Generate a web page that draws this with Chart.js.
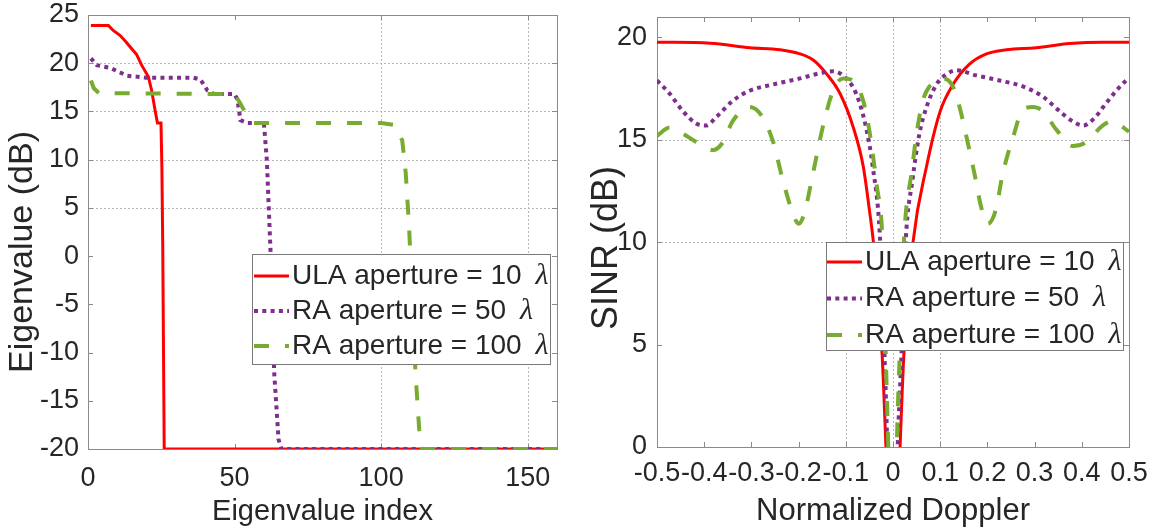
<!DOCTYPE html>
<html>
<head>
<meta charset="utf-8">
<script src="https://cdn.jsdelivr.net/npm/chart.js@4.4.1/dist/chart.umd.min.js"></script>
<style>
  body { margin: 0; background: #fff; }
  canvas { position: absolute; top: 0; }
  #eigChart { left: 0; }
  #sinrChart { left: 580px; }
</style>
</head>
<body>
<canvas id="eigChart" width="600" height="531"></canvas>
<canvas id="sinrChart" width="581" height="531"></canvas>
<script>
// series names
const seriesNames = ['ULA aperture = 10 λ', 'RA aperture = 50 λ', 'RA aperture = 100 λ'];

// eigenvalue spectra (dB) against eigenvalue index
const ulaIdx = [1, 7, 8.6, 10.9, 13, 14.9, 16.6, 18.3, 20.6, 21.7, 22.9, 23.7, 24.9, 25.2, 25.5, 26, 160];
const ulaEig = [23.9, 23.9, 23.4, 22.9, 22.2, 21.5, 20.9, 19.8, 18.6, 17.2, 15.1, 13.8, 13.8, 9.3, 1, -20, -20];
const ra50Idx = [1, 3, 7.7, 13.4, 20, 36, 38.4, 40.7, 43, 50, 51, 52, 54.3, 60, 61, 62.3, 63.5, 65, 66, 160];
const ra50Eig = [20.5, 19.8, 19.5, 18.7, 18.5, 18.5, 18.3, 17.2, 16.8, 16.8, 16.2, 14.1, 13.8, 13.8, 10, 0.3, -12, -19, -20, -20];
const ra100Idx = [1, 2, 3.7, 50, 52, 53.8, 56.6, 100, 104.4, 107.2, 108.4, 109.5, 111.7, 113, 114, 160];
const ra100Eig = [18.2, 17.4, 16.9, 16.8, 15.8, 14.8, 13.8, 13.8, 13.6, 12, 8.6, 3.3, -12, -18, -20, -20];

// SINR (dB) against normalized Doppler
const ulaDop = [-0.5, -0.387, -0.303, -0.239, -0.197, -0.169, -0.14, -0.112, -0.084, -0.063, -0.049, -0.042, -0.023, -0.015, 0,
  0.015, 0.023, 0.043, 0.071, 0.1, 0.127, 0.162, 0.198, 0.24, 0.303, 0.374, 0.444, 0.5];
const ulaSinr = [19.77, 19.72, 19.5, 19.4, 19.2, 18.9, 18.2, 17.25, 15.6, 13.7, 11.4, 10.1, 4.5, 0, -10,
  0, 4.5, 10.1, 13.7, 16.4, 17.7, 18.7, 19.2, 19.4, 19.5, 19.7, 19.77, 19.77];
const ra50Dop = [-0.5, -0.473, -0.445, -0.417, -0.396, -0.375, -0.34, -0.304, -0.255, -0.197, -0.155, -0.127, -0.099, -0.078, -0.057,
  -0.043, -0.028, -0.018, -0.012, 0, 0.01, 0.018, 0.027, 0.041, 0.056, 0.071, 0.092, 0.113, 0.134, 0.176, 0.226, 0.276, 0.318,
  0.353, 0.381, 0.403, 0.424, 0.452, 0.473, 0.494, 0.5];
const ra50Sinr = [17.9, 17.25, 16.4, 15.8, 15.7, 16.1, 16.9, 17.4, 17.7, 18.0, 18.25, 18.35, 18.0, 17.25, 15.6,
  13.7, 10.4, 4.5, 0, -10, 0, 4.5, 10.1, 13.0, 15.3, 16.6, 17.7, 18.2, 18.4, 18.15, 17.9, 17.6, 17.1,
  16.4, 15.9, 15.7, 16.0, 16.8, 17.4, 17.9, 18.0];
const ra100Dop = [-0.5, -0.473, -0.445, -0.417, -0.381, -0.36, -0.34, -0.304, -0.276, -0.254, -0.233, -0.212, -0.2, -0.188, -0.17,
  -0.149, -0.127, -0.106, -0.085, -0.063, -0.049, -0.034, -0.023, -0.016, -0.01, 0, 0.008, 0.015, 0.024, 0.04, 0.05, 0.063,
  0.077, 0.105, 0.127, 0.141, 0.159, 0.173, 0.187, 0.201, 0.218, 0.232, 0.254, 0.276, 0.297, 0.318, 0.346, 0.381, 0.41,
  0.444, 0.465, 0.5];
const ra100Sinr = [15.2, 15.6, 15.3, 14.9, 14.5, 14.9, 15.9, 16.6, 16.1, 14.9, 13.0, 11.4, 10.9, 11.4, 13.3,
  15.6, 17.4, 18.0, 17.9, 16.9, 15.3, 12.7, 10.4, 5, 0, -10, 0, 5, 10.4, 13.5, 15.3, 16.9,
  17.6, 18.0, 17.6, 16.6, 14.8, 13.3, 11.7, 10.9, 11.6, 13.3, 15.1, 16.5, 16.6, 16.4, 15.5, 14.7, 14.9,
  15.7, 15.9, 15.4];

// tick values
const eigXTicks = [0, 50, 100, 150];
const eigYTicks = [-20, -15, -10, -5, 0, 5, 10, 15, 20, 25];
const dopXTicks = [-0.5, -0.4, -0.3, -0.2, -0.1, 0, 0.1, 0.2, 0.3, 0.4, 0.5];
const sinrYTicks = [0, 5, 10, 15, 20];

const TXT = '#262626';
const SANS = "'Liberation Sans', Arial, sans-serif";
const lineStyles = [
  { color: '#ff0000', width: 3, dash: [] },
  { color: '#7e2f8e', width: 4, dash: [4, 4.3] },
  { color: '#77ac30', width: 4, dash: [15, 16] }
];

const pts = (xs, ys) => xs.map((v, i) => ({ x: v, y: ys[i] }));

function makeSets(pairs, smooth) {
  return pairs.map((p, i) => ({
    label: seriesNames[i],
    data: pts(p[0], p[1]),
    borderColor: lineStyles[i].color,
    borderWidth: lineStyles[i].width,
    borderDash: lineStyles[i].dash,
    borderCapStyle: 'butt',
    pointRadius: 0,
    tension: 0,
    cubicInterpolationMode: smooth ? 'monotone' : 'default'
  })).reverse();
}

function hline(ctx, x0, x1, y) { ctx.beginPath(); ctx.moveTo(x0, y); ctx.lineTo(x1, y); ctx.stroke(); }
function vline(ctx, x, y0, y1) { ctx.beginPath(); ctx.moveTo(x, y0); ctx.lineTo(x, y1); ctx.stroke(); }

// grid, box, inward ticks, y label and legend, drawn like a matlab axes
const axesBox = {
  id: 'axesBox',
  beforeDatasetsDraw(chart, args, o) {
    const { ctx, chartArea: a, scales: { x, y } } = chart;
    ctx.save();
    ctx.lineWidth = 1;
    ctx.strokeStyle = '#b8b8b8';
    ctx.setLineDash([2, 2]);
    o.gridX.forEach(v => vline(ctx, Math.round(x.getPixelForValue(v)) + 0.5, a.top, a.bottom));
    o.gridY.forEach(v => hline(ctx, a.left, a.right, Math.round(y.getPixelForValue(v)) + 0.5));
    ctx.setLineDash([]);
    ctx.strokeStyle = '#8a8a8a';
    ctx.strokeRect(Math.round(a.left) + 0.5, Math.round(a.top) + 0.5, Math.round(a.width), Math.round(a.height));
    const t = 5;
    x.ticks.forEach(tk => {
      const px = Math.round(x.getPixelForValue(tk.value)) + 0.5;
      vline(ctx, px, a.bottom, a.bottom - t);
      vline(ctx, px, a.top, a.top + t);
    });
    y.ticks.forEach(tk => {
      const py = Math.round(y.getPixelForValue(tk.value)) + 0.5;
      hline(ctx, a.left, a.left + t, py);
      hline(ctx, a.right, a.right - t, py);
    });
    ctx.restore();
  },
  afterDatasetsDraw(chart, args, o) {
    const lg = o.legend;
    const ctx = chart.ctx;
    ctx.save();
    ctx.fillStyle = '#fff';
    ctx.fillRect(lg.x, lg.y, lg.w, lg.h);
    ctx.strokeStyle = '#7a7a7a';
    ctx.lineWidth = 1;
    ctx.strokeRect(lg.x + 0.5, lg.y + 0.5, lg.w, lg.h);
    seriesNames.forEach((name, i) => {
      const yy = lg.y + lg.rowTop + i * lg.rowStep;
      const st = lineStyles[i];
      ctx.strokeStyle = st.color;
      ctx.lineWidth = st.width;
      ctx.lineCap = 'butt';
      ctx.setLineDash(st.dash);
      hline(ctx, lg.x + lg.inset, lg.x + lg.inset + 35, yy);
      ctx.setLineDash([]);
      const cut = name.lastIndexOf(' ');
      const head = name.slice(0, cut), sym = name.slice(cut + 1);
      const tx = lg.x + lg.textX;
      ctx.fillStyle = TXT;
      ctx.textBaseline = 'middle';
      ctx.textAlign = 'left';
      ctx.font = '28px ' + SANS;
      ctx.fillText(head, tx, yy);
      const w = ctx.measureText(head).width;
      ctx.font = "italic 30px 'Liberation Serif', 'Times New Roman', serif";
      ctx.fillText(sym, tx + w + 14, yy);
    });
    ctx.restore();
  },
  afterDraw(chart, args, o) {
    // vertical axis label
    const ctx = chart.ctx;
    ctx.save();
    ctx.translate(o.yTitle.x, o.yTitle.y);
    ctx.rotate(-Math.PI / 2);
    ctx.fillStyle = TXT;
    ctx.textAlign = 'center';
    ctx.textBaseline = 'middle';
    ctx.font = o.yTitle.size + 'px ' + SANS;
    ctx.fillText(chart.options.scales.y.title.text, 0, 0);
    ctx.restore();
  }
};

function fixWidth(w) {
  return s => { s.width = w; s.paddingTop = 0; s.paddingBottom = 0; };
}
function fixHeight(h) {
  return s => { s.height = h; s.paddingLeft = 0; s.paddingRight = 0; };
}
function useTicks(vals) {
  return s => { s.ticks = vals.map(v => ({ value: v })); };
}

function axis(opts) {
  return {
    type: 'linear',
    min: opts.min,
    max: opts.max,
    afterBuildTicks: useTicks(opts.ticks),
    afterFit: opts.fit,
    grid: { display: false, drawTicks: false },
    border: { display: false },
    ticks: {
      color: TXT,
      padding: opts.pad,
      maxRotation: 0,
      autoSkip: false,
      font: { family: SANS, size: 27 },
      callback: v => String(v)
    },
    title: {
      display: !!opts.titleSize,
      text: opts.title,
      color: TXT,
      padding: opts.titlePad || 0,
      font: { family: SANS, size: opts.titleSize || 29 }
    }
  };
}

function baseOptions(pad, xAxis, yAxis, box) {
  return {
    responsive: false,
    animation: false,
    events: [],
    layout: { padding: pad },
    plugins: { legend: { display: false }, tooltip: { enabled: false }, axesBox: box },
    scales: { x: xAxis, y: yAxis }
  };
}

new Chart(document.getElementById('eigChart'), {
  type: 'line',
  data: {
    datasets: makeSets([[ulaIdx, ulaEig], [ra50Idx, ra50Eig], [ra100Idx, ra100Eig]], false)
  },
  options: baseOptions(
    { top: 15, right: 43, left: 0, bottom: 0 },
    axis({ min: 0, max: 160, ticks: eigXTicks, fit: fixHeight(82), pad: 13, title: 'Eigenvalue index', titleSize: 29, titlePad: { top: 0, bottom: 2 } }),
    axis({ min: -20, max: 25, ticks: eigYTicks, fit: fixWidth(88), pad: 9, title: 'Eigenvalue (dB)' }),
    {
      gridX: [100, 150], gridY: [5, 10, 15, 20],
      yTitle: { x: 23, y: 252, size: 34 },
      legend: { x: 252, y: 254, w: 298, h: 110, rowTop: 22, rowStep: 35, inset: 2, textX: 40 }
    }
  ),
  plugins: [axesBox]
});

new Chart(document.getElementById('sinrChart'), {
  type: 'line',
  data: {
    datasets: makeSets([[ulaDop, ulaSinr], [ra50Dop, ra50Sinr], [ra100Dop, ra100Sinr]], true)
  },
  options: baseOptions(
    { top: 17, right: 32, left: 0, bottom: 0 },
    axis({ min: -0.5, max: 0.5, ticks: dopXTicks, fit: fixHeight(84), pad: 10, title: 'Normalized Doppler', titleSize: 31, titlePad: { top: 0, bottom: 1 } }),
    axis({ min: 0, max: 21, ticks: sinrYTicks, fit: fixWidth(77), pad: 10, title: 'SINR (dB)' }),
    {
      gridX: [-0.1, 0, 0.1], gridY: [10, 15],
      yTitle: { x: 27, y: 248, size: 36 },
      legend: { x: 246, y: 242, w: 297, h: 108, rowTop: 20, rowStep: 36.5, inset: 1, textX: 39 }
    }
  ),
  plugins: [axesBox]
});
</script>
</body>
</html>
